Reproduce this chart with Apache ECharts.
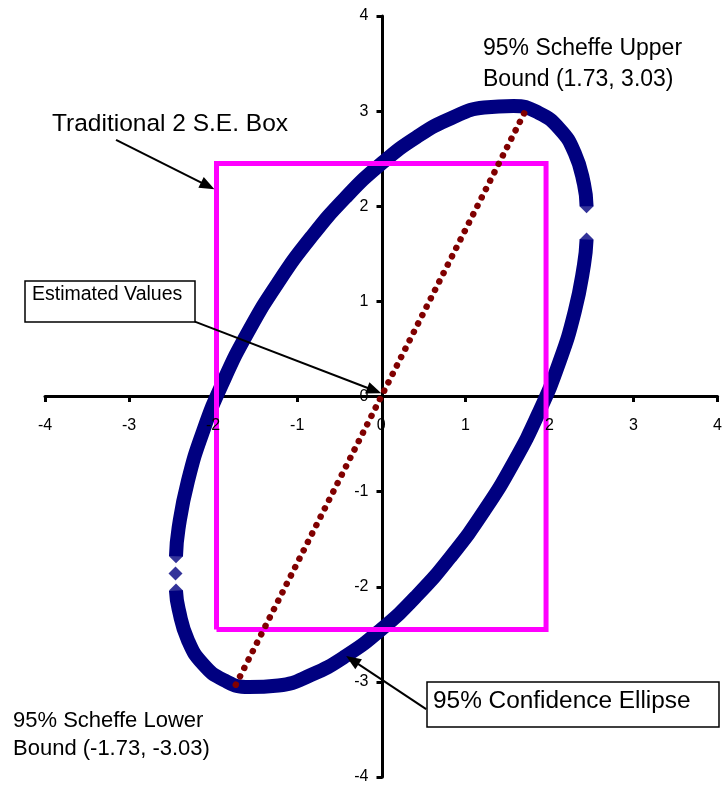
<!DOCTYPE html>
<html>
<head>
<meta charset="utf-8">
<script src="https://cdn.jsdelivr.net/npm/echarts@6/dist/echarts.min.js"></script>
<style>
  html, body { margin: 0; padding: 0; background: #fff; }
  #ellipse { width: 725px; height: 785px; }
</style>
</head>
<body>
<div id="ellipse"></div>
<script>
// ellipse points (upper arc, then lower arc)
var ellipseUpper = [
	[2.442, 2.0], [2.411, 2.233], [2.300, 2.562], [2.120, 2.814], [1.875, 2.980],
	[1.574, 3.055], [1.224, 3.038], [0.837, 2.928], [0.425, 2.730], [0, 2.448],
	[-0.425, 2.092], [-0.837, 1.672], [-1.224, 1.202], [-1.574, 0.695], [-1.875, 0.167],
	[-2.120, -0.366], [-2.300, -0.888], [-2.411, -1.383], [-2.442, -1.68]
];
var ellipseLower = [
	[-2.442, -2.04], [-2.411, -2.233], [-2.300, -2.562], [-2.120, -2.814], [-1.875, -2.980],
	[-1.574, -3.055], [-1.224, -3.038], [-0.837, -2.928], [-0.425, -2.730], [0, -2.448],
	[0.425, -2.092], [0.837, -1.672], [1.224, -1.202], [1.574, -0.695], [1.875, -0.167],
	[2.120, 0.366], [2.300, 0.888], [2.411, 1.383], [2.442, 1.65]
];
// single diamonds at the ends of the arcs and in the gaps
var ellipseEnds = [[2.442, 2.0], [2.442, 1.65], [-2.442, -1.68], [-2.448, -1.86], [-2.442, -2.04]];
var seBox = [[-1.96, -2.45], [-1.96, 2.45], [1.96, 2.45], [1.96, -2.45], [-1.96, -2.45]];
var scheffeLine = [[-1.73, -3.03], [1.73, 3.03]];
var axisMin = -4, axisMax = 4, axisStep = 1;

var myChart = echarts.init(document.getElementById('ellipse'));

var font = 'Liberation Sans, Arial, sans-serif';
// plot area, the axes cross in its middle
var gridLeft = 45, gridRight = 5, gridTop = 16, gridBottom = 7;
var plotW = 725 - gridLeft - gridRight, plotH = 785 - gridTop - gridBottom;

function arrow(from, to) {
	return [{ coord: from, symbol: 'none' }, { coord: to, symbol: 'triangle' }];
}

// line + ticks under the marks
function axis(position, offset) {
	return {
		type: 'value',
		position: position,
		min: axisMin,
		max: axisMax,
		interval: axisStep,
		offset: offset,
		axisLine: { onZero: false, lineStyle: { color: '#000', width: 3 } },
		axisTick: { show: true, length: 6, lineStyle: { color: '#000', width: 3 } },
		splitLine: { show: false },
		axisLabel: { show: false }
	};
}

// same axis again, only its labels, drawn above the marks
function labelAxis(position, offset, margin) {
	return {
		type: 'value',
		position: position,
		min: axisMin,
		max: axisMax,
		interval: axisStep,
		offset: offset,
		z: 20,
		axisLine: { show: false, onZero: false },
		axisTick: { show: false },
		splitLine: { show: false },
		axisLabel: { color: '#000', fontSize: 16, fontFamily: font, margin: margin }
	};
}

option = {
	animation: false,
	grid: { left: gridLeft, right: gridRight, top: gridTop, bottom: gridBottom },
	xAxis: [axis('bottom', -plotH / 2), labelAxis('bottom', -plotH / 2, 22)],
	yAxis: [axis('left', -plotW / 2), labelAxis('left', -plotW / 2, 14)],
	series: [{
		type: 'line',
		data: ellipseUpper,
		smooth: true,
		symbol: 'none',
		lineStyle: { color: '#000080', width: 14 },
		z: 2
	}, {
		type: 'line',
		data: ellipseLower,
		smooth: true,
		symbol: 'none',
		lineStyle: { color: '#000080', width: 14 },
		z: 2
	}, {
		type: 'scatter',
		data: ellipseEnds,
		symbol: 'diamond',
		symbolSize: 14,
		itemStyle: { color: '#000080' },
		z: 2
	}, {
		type: 'line',
		data: seBox,
		symbol: 'none',
		lineStyle: { color: '#ff00ff', width: 5, join: 'miter' },
		z: 3
	}, {
		type: 'line',
		data: scheffeLine,
		symbol: 'none',
		lineStyle: { color: '#800000', width: 6.5, type: [0.01, 9.4], cap: 'round' },
		z: 4,
		markLine: {
			silent: true,
			symbolSize: [12, 15],
			label: { show: false },
			lineStyle: { color: '#000', width: 2, type: 'solid' },
			itemStyle: { color: '#000' },
			data: [
				arrow([-3.155, 2.698], [-2.064, 2.215]),
				arrow([-2.218, 0.787], [-0.083, 0.063]),
				arrow([0.534, -3.286], [-0.344, -2.772])
			]
		}
	}],
	graphic: [
		{ type: 'text', left: 52, top: 112, style: { text: 'Traditional 2 S.E. Box', font: '24.5px ' + font, fill: '#000' } },
		{ type: 'text', left: 483, top: 33, style: { text: '95% Scheffe Upper\nBound (1.73, 3.03)', font: '23px ' + font, lineHeight: 31, fill: '#000' } },
		{ type: 'text', left: 13, top: 707, style: { text: '95% Scheffe Lower\nBound (-1.73, -3.03)', font: '22px ' + font, lineHeight: 28, fill: '#000' } },
		{ type: 'rect', shape: { x: 25, y: 281, width: 170, height: 41 }, style: { fill: '#fff', stroke: '#000', lineWidth: 1.5 }, z: 10 },
		{ type: 'text', x: 32, y: 285, style: { text: 'Estimated Values', font: '19.5px ' + font, fill: '#000' }, z: 11 },
		{ type: 'rect', shape: { x: 427, y: 682, width: 292, height: 45 }, style: { fill: '#fff', stroke: '#000', lineWidth: 1.5 }, z: 10 },
		{ type: 'text', x: 433, y: 689, style: { text: '95% Confidence Ellipse', font: '24.4px ' + font, fill: '#000' }, z: 11 }
	]
};

myChart.setOption(option);
</script>
</body>
</html>
